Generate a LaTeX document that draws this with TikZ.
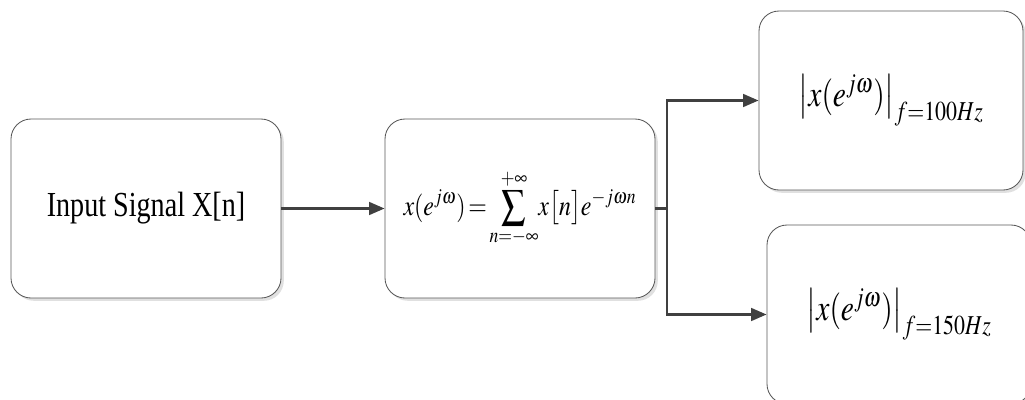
\documentclass[tikz,border=0pt]{standalone}
\usepackage{graphicx}
\usepackage{mathptmx}
\usepackage[no-math]{fontspec}
\setmainfont{Liberation Serif}
\usetikzlibrary{arrows.meta,shadows}
\newcommand{\tallbox}[2][1.25]{\scalebox{1}[#1]{#2}}

\begin{document}
\begin{tikzpicture}[x=1cm,y=1cm,
 blk/.style={draw=black!65,line width=0.6pt,fill=white,rounded corners=0.5cm,minimum width=6.75cm,minimum height=4.475cm,inner sep=0pt,
  drop shadow={shadow xshift=0.07cm,shadow yshift=-0.07cm,fill=black!12,opacity=1}},
 flow/.style={draw=black!75,line width=1.8pt,-{Triangle[length=11pt,width=9pt]}}]
 \useasboundingbox (0,0) rectangle (25.625,9.975);
 \node[blk,font=\fontsize{20}{24}\selectfont] (sig) at (3.65,4.7625) {\tallbox{Input Signal X[n]}};
 \node[blk,font=\fontsize{17}{20}\selectfont] (dtft) at (13,4.7625) {\tallbox[1.2]{\thickmuskip=2mu$\displaystyle x(e^{j\omega})=\sum_{n=-\infty}^{+\infty}\!x\bigl[n\bigr]e^{-j\omega n}$}};
 \node[blk,minimum width=6.6cm,font=\fontsize{21}{25}\selectfont] (mag1) at (22.275,7.4625) {\tallbox{$\left|x(e^{j\omega})\right|_{f{=}100Hz}$}};
 \node[blk,minimum width=6.6cm,font=\fontsize{21}{25}\selectfont] (mag2) at (22.475,2.1125) {\tallbox{$\left|x(e^{j\omega})\right|_{f{=}150Hz}$}};
 \coordinate (br) at (16.675,4.7625);
 \draw[flow] (sig) -- (dtft);
 \draw[flow,-] (dtft.east) -- (br);
 \draw[flow] (br) |- (mag1.west); \draw[flow] (br) |- (mag2.west);
\end{tikzpicture}
\end{document}
